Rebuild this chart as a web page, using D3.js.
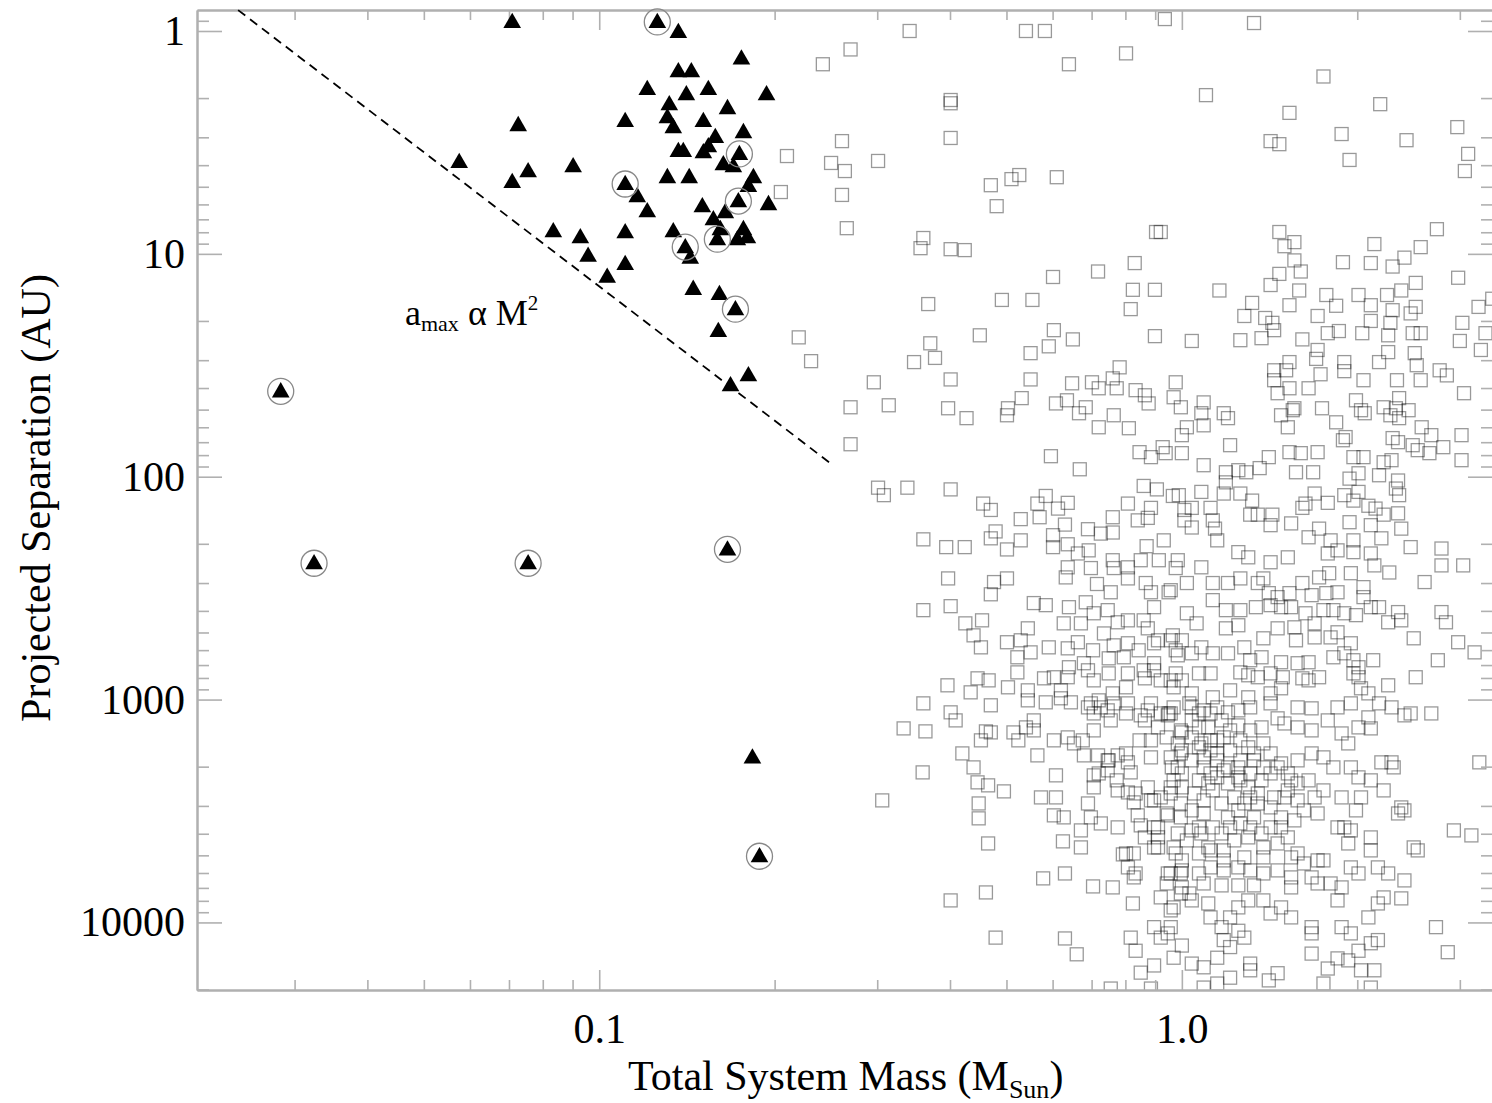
<!DOCTYPE html>
<html><head><meta charset="utf-8">
<script src="https://cdn.jsdelivr.net/npm/d3@7"></script>
<style>body{margin:0;background:#fff}svg text{font-family:"Liberation Serif","Times New Roman",serif}</style>
</head><body><svg id="c" width="1492" height="1103"></svg>
<script>
// ---- data ----
const triMass=[0.0709,0.1258,0.1367,0.1754,0.1367,0.1439,0.1209,0.1411,0.1539,0.1937,0.1319,0.166,0.1108,0.1309,0.1509,0.0726,0.134,0.1768,0.1582,0.1367,0.1394,0.1539,0.1509,0.174,0.0575,0.0755,0.0902,0.1633,0.1699,0.0709,0.1108,0.1162,0.1309,0.1427,0.1839,0.1803,0.1209,0.1503,0.1952,0.1733,0.1646,0.157,0.1614,0.1768,0.1595,0.1796,0.1726,0.0834,0.0928,0.1108,0.134,0.1405,0.1433,0.0957,0.1108,0.1032,0.145,0.1608,0.1713,0.1601,0.1803,0.168,0.0284,0.0324,0.0755,0.166,0.1832,0.1884];
const triSep=[0.92,0.92,1.02,1.34,1.53,1.53,1.84,1.94,1.84,1.94,2.15,2.24,2.56,2.46,2.56,2.67,2.73,2.87,3.02,3.49,3.49,3.32,3.53,3.60,3.91,4.30,4.08,4.0,4.08,4.81,4.91,5.56,4.57,4.57,4.57,5.01,6.50,6.17,6.04,5.86,6.56,7.06,7.82,7.82,8.68,8.50,8.68,7.99,8.50,8.07,7.99,9.42,10.5,10.3,11.2,12.8,14.5,15.3,17.9,22.4,35.4,39.2,41.8,247,247,214,1835,5100];
const triRing=[0,1,0,0,0,0,0,0,0,0, 0,0,0,0,0,0,0,0,0,0, 0,0,0,1,0,0,0,0,0,0, 1,0,0,0,0,0,0,0,0,1, 0,0,0,0,1,0,0,0,0,0, 0,1,0,0,0,0,0,0,1,0, 0,0,1,1,1,1,0,1];

// comparison sample: [total mass (Msun), projected separation (AU)]
const squares=[
[0.341,1.00],[0.270,1.21],[0.242,1.41],[0.540,1.00],[0.582,1.00],[0.640,1.41],[0.802,1.26],[0.935,0.884],[1.33,0.921],[1.75,1.60],[1.10,1.94],[0.401,2.04],[0.401,2.11],[1.53,2.33],[2.19,2.13],[2.97,2.70],[0.401,3.02],[0.261,3.12],[0.210,3.64],[0.250,3.91],[0.264,4.25],[0.301,3.83],[0.205,5.28],[0.261,5.44],[0.470,4.92],[0.510,4.62],[0.526,4.43],[0.610,4.53],[0.481,6.11],[1.42,3.12],[1.47,3.22],[1.88,2.90],[2.43,3.09],[1.94,3.79],[3.10,3.56],[3.06,4.25],[0.266,7.67],[0.360,8.49],[0.356,9.43],[0.401,9.53],[0.424,9.62],[0.903,7.98],[0.920,7.98],[1.47,7.98],[1.50,9.24],[1.56,8.86],[2.14,9.04],[2.57,9.33],[2.74,7.75],[0.601,12.7],[0.718,12.0],[0.830,11.0],[0.824,14.5],[0.817,17.7],[0.899,14.5],[1.16,14.6],[0.367,16.8],[0.491,16.1],[0.554,16.1],[1.56,10.7],[1.60,12.0],[1.47,12.3],[1.42,13.8],[1.59,14.6],[1.53,17.0],[1.32,16.6],[1.28,19.0],[1.39,19.4],[1.43,20.4],[1.71,19.0],[1.77,15.3],[1.84,17.1],[1.89,10.9],[2.11,11.0],[2.30,11.4],[2.41,10.4],[2.52,13.5],[2.98,12.8],[2.01,15.3],[2.25,15.3],[2.38,14.6],[2.11,17.0],[2.30,17.9],[2.47,18.5],[2.52,17.3],[2.11,20.0],[2.28,20.4],[3.23,17.3],[3.03,20.4],[3.41,15.9],
[0.220,23.7],[0.231,30.3],[0.450,23.2],[0.370,25.2],[0.377,29.3],[0.347,30.6],[0.296,37.7],[0.270,48.8],[0.314,47.8],[0.401,36.6],[0.397,49.3],[0.427,54.6],[0.503,49.3],[0.501,53.0],[0.531,44.4],[0.550,27.9],[0.550,36.6],[0.603,22.0],[0.591,26.0],[0.650,24.2],[0.608,46.9],[0.635,45.4],[0.684,48.8],[0.666,51.9],[0.648,38.1],[0.701,37.7],[0.720,40.1],[0.761,36.2],[0.782,32.3],[0.773,40.1],[0.833,40.9],[0.864,43.1],[0.877,46.9],[0.976,37.7],[0.968,44.0],[0.996,48.8],[1.08,51.9],[1.09,46.4],[1.18,51.9],[1.20,54.6],[0.764,53.0],[0.720,60.0],[0.811,60.6],[0.899,23.4],[1.04,24.6],[1.26,24.4],[1.37,23.9],[1.44,22.0],[1.61,24.2],[1.78,22.7],[1.86,22.2],[2.04,22.7],[1.71,27.0],[1.70,29.6],[1.53,30.6],[1.51,33.3],[1.44,33.3],[1.44,36.9],[1.46,42.2],[1.53,40.1],[1.65,40.1],[1.73,34.7],[1.90,30.6],[1.90,33.6],[2.05,36.9],[2.18,30.6],[2.34,36.9],[2.26,27.6],[2.26,23.2],[2.49,22.7],[2.57,22.7],[2.51,27.9],[2.53,31.6],[2.57,36.9],[2.85,35.1],[2.77,33.3],[3.05,42.2],[3.00,24.6],[3.32,22.7],[3.26,27.0],[2.36,44.4],[2.33,49.3],[2.28,53.0],[2.36,54.6],[2.45,50.3],[2.22,48.8],[2.06,51.9],[2.03,50.3],[1.99,45.4],[1.74,49.3],[1.84,57.0],[1.55,50.3],[1.48,53.0],[1.56,49.3],[1.52,60.0],[1.09,58.8],[1.02,60.0],[1.00,65.1],[1.91,66.4],[2.30,67.1],[2.58,60.0],[2.68,65.1],[3.02,65.1],[2.49,72.2],[0.270,71.5],
[0.596,80.9],[0.668,92.6],[0.846,77.6],[0.885,81.7],[0.927,73.7],[0.938,78.4],[0.301,112],[0.308,121],[0.338,112],[0.401,114],[0.456,132],[0.470,141],[0.529,155],[0.565,132],[0.584,122],[0.570,152],[0.613,139],[0.637,131],[0.630,164],[0.690,172],[0.726,180],[0.761,152],[0.761,178],[0.808,132],[0.860,110],[0.906,114],[0.840,157],[0.874,153],[0.885,138],[0.965,122],[0.360,191],[0.394,207],[0.424,207],[0.470,189],[0.479,176],[0.501,212],[0.529,193],[0.601,207],[0.601,183],[0.637,201],[0.663,221],[0.692,214],[0.637,255],[0.698,257],[0.632,283],[0.761,237],[0.764,257],[0.808,255],[0.850,237],[0.870,205],[0.931,193],[0.913,237],[0.976,257],[0.397,286],[0.476,297],[0.501,286],[0.470,337],[0.715,303],[0.755,330],[0.808,286],[0.867,300],[0.885,330],[0.949,330],[0.360,397],[0.401,381],[0.425,455],[0.454,441],[0.439,515],[0.557,369],[0.584,377],[0.640,385],[0.684,366],[0.706,410],[0.671,455],[0.627,455],[0.746,397],[0.776,450],[0.808,441],[0.860,441],[0.896,385],[0.874,479],[0.910,542],[0.452,583],[0.501,553],[0.529,542],[0.544,479],[0.550,614],[0.522,646],[0.591,583],[0.637,589],[0.663,553],[0.704,601],[0.735,505],[0.764,571],[0.808,559],[0.843,601],[0.896,559],[0.965,515],[0.976,601],[0.749,653],[0.795,646],[0.396,863],[0.434,928],[0.446,803],[0.466,820],[0.503,881],[0.522,755],[0.544,909],[0.580,803],[0.603,794],[0.637,794],[0.620,909],[0.640,716],[0.679,687],[0.690,739],[0.706,820],[0.749,763],[0.808,763],[0.860,739],[0.896,739],[0.920,820],[0.976,763],[0.968,881],[0.360,1040],[0.401,1141],[0.470,1061],[0.544,1008],[0.584,1029],[0.620,987],[0.645,1029],[0.698,1040],[0.726,1084],[0.764,1040],[0.808,1040],[0.874,1118],[0.920,1154],[0.949,1154],[0.885,1040],
[1.00,78.4],[1.21,72.2],[1.09,88.8],[1.19,95.5],[1.25,93.5],[1.29,95.5],[1.36,91.5],[1.41,81.7],[1.53,77.6],[1.60,78.4],[1.71,77.6],[1.57,95.5],[1.68,95.5],[1.89,68.6],[1.97,81.7],[2.05,81.7],[2.22,86.1],[2.29,84.3],[1.94,102],[2.01,96.5],[2.18,98.5],[2.35,104],[2.36,121],[2.33,113],[2.54,76.0],[2.66,78.4],[2.81,73.7],[3.02,84.3],[2.35,70.0],[0.988,121],[1.08,117],[1.19,106],[1.18,119],[1.26,119],[1.32,128],[1.01,141],[1.04,138],[1.12,138],[1.13,157],[1.14,171],[1.15,193],[1.01,157],[1.04,169],[1.31,148],[1.35,148],[1.43,148],[1.42,165],[1.54,162],[1.61,138],[1.63,132],[1.69,119],[1.78,131],[1.90,121],[1.97,128],[2.01,117],[2.09,135],[2.15,139],[2.22,148],[2.35,146],[1.94,160],[2.11,165],[2.20,189],[2.38,171],[2.47,207],[2.79,210],[2.79,250],[3.04,250],[1.65,187],[1.72,171],[1.80,193],[1.78,221],[1.85,214],[1.97,193],[1.97,218],[2.11,221],[2.14,250],[2.27,269],[2.61,297],[1.72,283],[1.79,271],[1.77,333],[1.85,330],[1.95,271],[2.05,313],[2.05,347],[1.25,218],[1.30,230],[1.42,242],[1.52,230],[1.08,255],[0.984,237],[0.957,323],[1.02,300],[1.13,300],[1.20,300],[1.26,286],[1.35,300],[1.38,286],[1.41,333],[1.46,347],[1.53,333],[1.61,300],[1.67,340],[1.75,397],[1.63,410],[1.69,455],[1.82,397],[1.90,410],[1.99,418],[2.11,385],[2.18,385],[2.26,450],[2.38,441],[2.35,405],[2.50,531],[2.79,405],[2.84,450],[2.98,553],[3.18,614],[2.75,666],[2.52,794],[2.26,863],[2.09,938],[2.01,794],[2.01,716],[2.13,666],[1.13,358],[1.19,397],[1.26,397],[1.34,385],[1.42,377],[1.48,385],[1.54,385],[1.02,410],[1.06,455],[1.19,479],[1.25,464],[1.38,531],[1.46,479],[1.56,474],[1.57,542],[1.69,526],[1.80,526],[1.85,499],[1.95,559],[1.37,646],[1.48,680],[1.58,687],[1.65,680],[1.72,794],[1.82,646],[1.90,620],[1.97,666],[1.97,763],[0.957,542],[1.00,542],[0.984,633],[1.04,620],[1.08,583],[1.13,620],[1.20,620],[1.28,583],[1.31,666],[1.26,755],[1.30,778],[1.35,794],[1.42,763],[1.49,794],[1.61,803],[1.65,820],[1.12,763],[1.07,763],[1.00,820],[0.957,820],[1.04,938],[1.13,977],[1.21,909],[1.30,977],[1.42,938],[1.48,890],[1.58,1084],[1.67,1095],[1.85,1084],[1.95,1040],[2.03,890],[2.18,1040],[2.29,1084],[2.47,1154],[2.68,1154],[0.968,1084],[1.04,1084],[1.15,1084],[1.25,1118],
[0.409,1240],[0.333,1347],[0.363,1389],[0.461,1389],[0.470,1404],[0.452,1524],[0.514,1404],[0.524,1524],[0.540,1333],[0.557,1240],[0.557,1375],[0.603,1524],[0.637,1478],[0.653,1573],[0.676,1524],[0.706,1375],[0.706,1154],[0.690,1084],[0.755,1240],[0.565,1780],[0.420,1744],[0.439,2015],[0.359,2122],[0.446,2352],[0.465,2426],[0.495,2582],[0.608,2188],[0.573,2748],[0.608,2748],[0.679,1780],[0.718,1780],[0.749,1874],[0.776,1780],[0.808,1913],[0.706,2188],[0.746,2078],[0.817,2122],[0.706,2477],[0.690,2925],[0.698,3378],[0.726,3596],[0.671,3864],[0.776,3745],[0.776,2556],[0.808,2610],[0.827,2893],[0.840,3308],[0.850,3669],[0.448,2925],[0.448,3412],[0.603,3308],[0.627,3378],[0.465,4422],[0.625,4328],[0.671,4606],[0.792,4951],[0.827,4903],[0.808,5663],[0.827,6280],[0.578,6344],[0.630,6029],[0.704,6893],[0.761,6964],[0.824,8220],[0.401,7965],[0.461,7334],[0.306,2834],[0.479,11700],[0.630,11800],[0.660,13900],[0.817,11700],[0.833,13400],[0.850,16800],[0.896,15600],[0.920,11700],[0.946,11200],[0.896,10500],[0.920,7720],[0.957,8830],[0.946,6030],[0.896,4610],[0.910,4150],[0.896,3745],[0.946,3308],[0.885,2834],[0.920,2748],[0.957,2477],[0.874,2477],[0.885,1817],[0.885,1524],[0.850,1177],[0.946,1177],[0.755,19800],[0.885,19800],
[0.957,1154],[0.996,1375],[1.04,1240],[1.09,1118],[1.20,1141],[1.31,1084],[1.42,1040],[1.46,1214],[1.78,1240],[1.88,1419],[1.93,1573],[2.01,1333],[2.09,1202],[2.41,1177],[2.11,1347],[1.67,1375],[1.58,1333],[1.50,1280],[1.37,1333],[1.31,1375],[1.25,1306],[1.18,1478],[1.12,1524],[1.07,1638],[1.00,1690],[0.957,1817],[0.984,2015],[1.04,1874],[1.09,1817],[1.15,1744],[1.21,1690],[1.30,1638],[1.38,1573],[1.42,1744],[1.33,1874],[1.25,2015],[1.18,2078],[1.12,2145],[1.07,2304],[1.00,2477],[0.957,2638],[0.996,2925],[1.04,3142],[1.09,2834],[1.13,2556],[1.20,2378],[1.26,2304],[1.31,2145],[1.37,2304],[1.42,2145],[1.48,1934],[1.58,1874],[1.67,1744],[1.75,1817],[1.82,2015],[1.95,2015],[2.01,2234],[2.11,2304],[2.22,2556],[2.20,1913],[2.31,2015],[2.38,3047],[2.35,3243],[1.99,3142],[1.88,2748],[2.03,2748],[1.90,3745],[1.95,3864],[2.11,4154],[2.11,4751],[1.93,4422],[1.85,3745],[1.71,3243],[1.69,2748],[1.75,2556],[1.65,2304],[1.54,2304],[1.50,2748],[1.44,2748],[1.35,2925],[1.31,2748],[1.25,3142],[1.20,3378],[1.13,3745],[1.08,3988],[1.02,4285],[0.968,4606],[1.00,5268],[1.07,4903],[1.12,4751],[1.18,4751],[1.23,4285],[1.30,4154],[1.38,4606],[1.42,3745],[1.48,3745],[1.56,3484],[1.52,4154],[1.58,4903],[1.54,5107],[1.62,5437],[1.71,5268],[1.75,5268],[1.67,6280],[1.71,6685],[1.80,6685],[1.88,6964],[1.85,7965],[1.95,5663],[2.01,6029],[2.17,5663],[2.26,6029],[2.41,6478],[2.22,7722],[2.17,8220],[2.38,7801],[2.09,9495],[1.95,11200],[2.01,13400],[1.85,14500],[1.93,14800],[1.78,16100],[1.75,18800],[2.03,16400],[2.14,16400],[2.11,19600],[1.67,13800],[1.67,11200],[1.67,10500],[1.88,10500],[2.11,12400],[2.17,12000],[1.54,9495],[1.48,8562],[1.42,9116],[1.38,7965],[1.30,7965],[1.25,8562],[1.21,9495],[1.17,10500],[1.12,9495],[1.11,8220],[1.04,7965],[0.996,7413],[0.968,8562],[0.957,10500],[1.00,12700],[0.968,14400],[1.04,15300],[1.09,15900],[1.15,14400],[1.21,12900],[1.28,11700],[1.25,10900],[1.18,12000],[1.31,15300],[1.31,16400],[1.41,18200],[1.46,16900],[1.21,17700],[1.15,18800],[1.09,19600],[1.38,6029],[1.31,5842],[1.25,5663],[1.18,5842],[1.12,5663],[1.07,6029],[1.00,5842],[0.957,6029],[1.38,5107],[1.46,5842],[1.54,6280],[1.54,6964],[1.33,6821],[1.25,6821],[1.17,6821],[1.09,6685],[1.00,6964],[2.93,3864],[3.14,4069],[2.50,4606],[2.54,4751],[2.41,3142],[2.29,1913],[2.73,10500],[2.86,13600],[3.24,1913],
[1.08,1573],[1.12,1690],[1.15,1874],[1.20,2015],[1.25,2234],[1.30,2477],[1.35,2638],[1.28,2925],[1.23,2748],[1.17,2925],[1.09,3243],[1.07,3745],[1.11,4606],[1.17,3988],[1.21,3745],[1.26,3596],[1.33,3378],[1.42,3047],[1.52,2556],[1.58,2378],[1.52,2145],[1.46,2015],[1.38,2015],[1.33,1744],[1.26,1524],[1.21,1375],[1.17,1240],[1.12,1154],[1.07,1333],[1.00,1404],[0.984,1573],[1.04,1478],[1.15,2234],[1.26,1874],[1.05,2638],[1.11,2378],[1.09,2015],[1.00,2145],[0.968,2304],[0.996,3378],[1.04,3864],[0.984,3988],[1.37,3988],[1.46,4422],[1.31,3745],[1.18,5268],[1.28,5107],[1.48,3378],[1.62,3142],[1.58,2834],
[0.896,687],[0.864,803],[0.802,881],[0.761,938],[0.720,1008],[0.746,1118],[0.802,1154],[0.864,1240],[0.910,1333],[0.942,1478],[0.846,1524],[0.802,1744],[0.746,1874],[0.720,2145],[0.773,2304],[0.833,2638],[0.896,2834],[0.942,3243],[0.910,3745],[0.864,4154],[0.910,4606],[0.976,4903],[0.996,6029],[0.942,6685],[1.03,7413],[0.802,4903],[0.833,6029],[0.961,2015],[0.996,1744],[1.03,1040],[1.07,1154],[1.11,1333],[1.15,1524]
];

const dashMass=[0.024,0.25];
const dashSep=[0.806,87.5];
const xTickValues=[0.1,1], xTickLabels=["0.1","1.0"];
const yTickValues=[1,10,100,1000,10000], yTickLabels=["1","10","100","1000","10000"];

// ---- layout ----
const L=197,R=1493,T=10,B=990;
const x=d3.scaleLog().domain([0.0204,3.42]).range([L,R]);
const y=d3.scaleLog().domain([0.805,20100]).range([T,B]);
const svg=d3.select("#c");

function minors(dom,decs){const o=[];decs.forEach(d=>{for(let k=2;k<=9;k++){const v=+(k*d).toPrecision(3);if(v>dom[0]&&v<dom[1])o.push(v);}});return o;}
const xMinor=minors(x.domain(),[0.01,0.1,1]);
const yMinor=minors(y.domain(),[0.1,1,10,100,1000,10000]);

svg.append("defs").append("clipPath").attr("id","clip").append("rect")
  .attr("x",L).attr("y",T).attr("width",R-L).attr("height",B-T);

// squares
svg.append("g").attr("clip-path","url(#clip)").selectAll("rect").data(squares).join("rect")
  .attr("x",d=>x(d[0])-6.5).attr("y",d=>y(d[1])-6.5).attr("width",13).attr("height",13)
  .attr("fill","none").attr("stroke","#000").attr("stroke-opacity",0.4).attr("stroke-width",1.3);

// axes
const axCol="#b0b0b0";
function styleAx(g){g.select(".domain").attr("stroke",axCol).attr("stroke-width",2);
  g.selectAll(".tick line").attr("stroke",axCol).attr("stroke-width",1.6);
  g.attr("font-family",null).attr("font-size",null);
  g.selectAll("text").attr("fill","#000").attr("font-size",42).attr("font-family","'Liberation Serif','Times New Roman',serif");}
function mk(axisFn,scale,tr,minorVals,majorVals,minLen,majLen,fmt,pad){
  const g1=svg.append("g").attr("transform",tr).call(axisFn(scale).tickValues(minorVals).tickSize(-minLen).tickSizeOuter(0).tickFormat(""));styleAx(g1);
  const a=axisFn(scale).tickValues(majorVals).tickSize(-majLen).tickSizeOuter(0).tickPadding(pad||0).tickFormat(fmt||"");
  const g2=svg.append("g").attr("transform",tr).call(a);styleAx(g2);return g2;}
mk(d3.axisLeft,y,`translate(${L},0)`,yMinor,yTickValues,12,25,(d,i)=>yTickLabels[i],12);
mk(d3.axisRight,y,`translate(${R},0)`,yMinor,yTickValues,12,25,"",0);
mk(d3.axisBottom,x,`translate(0,${B})`,xMinor,xTickValues,10,20,(d,i)=>xTickLabels[i],23);
mk(d3.axisTop,x,`translate(0,${T})`,xMinor,xTickValues,10,20,"",0);

// dashed relation line
const dl=d3.line().x(d=>x(d[0])).y(d=>y(d[1]));
svg.append("path").attr("d",dl(dashMass.map((m,i)=>[m,dashSep[i]])))
  .attr("fill","none").attr("stroke","#000").attr("stroke-width",1.8).attr("stroke-dasharray","9,6");

// triangles
const tri=triMass.map((m,i)=>({m,s:triSep[i],r:triRing[i]}));
svg.append("g").selectAll("path").data(tri).join("path")
  .attr("transform",d=>`translate(${x(d.m)},${y(d.s)})`)
  .attr("d",d3.symbol().type(d3.symbolTriangle).size(135)).attr("fill","#000");
svg.append("g").selectAll("circle").data(tri.filter(d=>d.r)).join("circle")
  .attr("cx",d=>x(d.m)).attr("cy",d=>y(d.s)-1).attr("r",13)
  .attr("fill","none").attr("stroke","#888").attr("stroke-width",1.3);

// annotation
const ann=svg.append("text").attr("x",405).attr("y",325).attr("font-size",36).attr("fill","#000");
ann.append("tspan").text("a");
ann.append("tspan").attr("font-size",22).attr("dy",6).text("max");
ann.append("tspan").attr("dy",-6).text(" \u03b1 M");
ann.append("tspan").attr("font-size",21).attr("dy",-15).text("2");

// axis titles
const xt=svg.append("text").attr("x",628).attr("y",1090).attr("font-size",42).attr("fill","#000");
xt.append("tspan").text("Total System Mass (M");
xt.append("tspan").attr("font-size",26).attr("dy",8).text("Sun");
xt.append("tspan").attr("dy",-8).text(")");
svg.append("text").attr("transform","translate(50,498) rotate(-90)").attr("text-anchor","middle")
  .attr("font-size",42).attr("fill","#000").text("Projected Separation (AU)");
</script></body></html>
